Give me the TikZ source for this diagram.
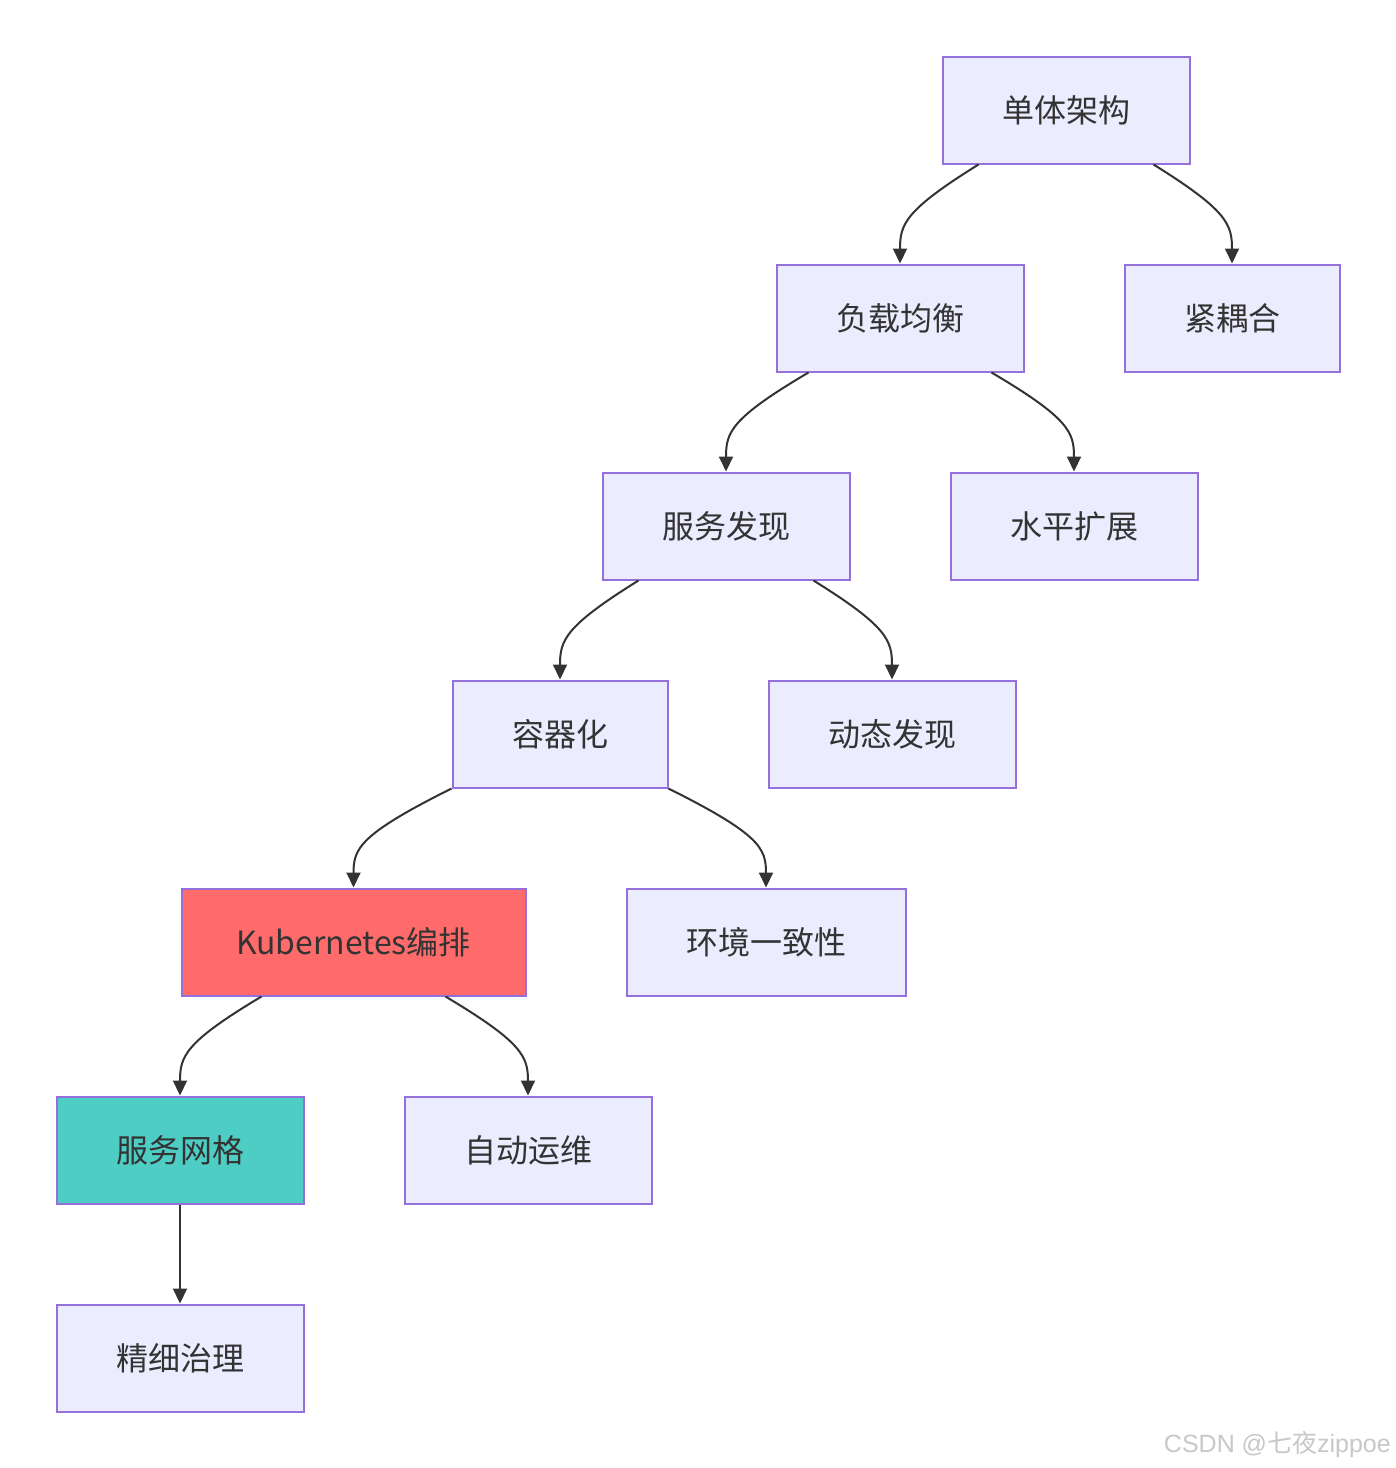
\documentclass[tikz,border=0pt]{standalone}
\usepackage{fontspec}
\setmainfont{Noto Sans CJK SC}
\newfontfamily\wmfont{Liberation Sans}
\newfontfamily\wmcjk{Noto Sans CJK SC}
\usetikzlibrary{arrows.meta,calc}
\definecolor{nodefill}{HTML}{ECECFF}
\definecolor{nodeline}{HTML}{9370DB}
\definecolor{txt}{HTML}{333333}
\definecolor{redfill}{HTML}{FF6B6B}
\definecolor{tealfill}{HTML}{4ECDC4}
\definecolor{wm}{HTML}{C8C8C8}
\tikzset{
  box/.style={draw=nodeline, fill=nodefill, line width=2pt, inner sep=0pt,
    minimum height=107pt, text=txt, font=\fontsize{32pt}{36pt}\selectfont},
  edge/.style={draw=txt, line width=2pt, -{Triangle[length=15pt,width=14pt]}},
}
\begin{document}
\begin{tikzpicture}[x=1pt,y=-1pt]
\useasboundingbox (0,0) rectangle (1396,1468);
\fill[white] (0,0) rectangle (1396,1468);
\node[box, minimum width=247pt] (A) at (1066,110) {单体架构};
\node[box, minimum width=247pt] (B) at (900,318) {负载均衡};
\node[box, minimum width=215pt] (C) at (1232,318) {紧耦合};
\node[box, minimum width=247pt] (D) at (726,526) {服务发现};
\node[box, minimum width=247pt] (E) at (1074,526) {水平扩展};
\node[box, minimum width=215pt] (F) at (560,734) {容器化};
\node[box, minimum width=247pt] (G) at (892,734) {动态发现};
\node[box, minimum width=344pt, fill=redfill] (H) at (353.5,942) {Kubernetes编排};
\node[box, minimum width=279pt] (I) at (766,942) {环境一致性};
\node[box, minimum width=247pt, fill=tealfill] (J) at (180,1150) {服务网格};
\node[box, minimum width=247pt] (K) at (528,1150) {自动运维};
\node[box, minimum width=247pt] (L) at (180,1358) {精细治理};
% edges
\coordinate (a1) at ($(A.south west)+(37,0)$);
\coordinate (a2) at ($(A.south east)+(-37,0)$);
\coordinate (b1) at ($(B.south west)+(33,0)$);
\coordinate (b2) at ($(B.south east)+(-33,0)$);
\coordinate (d1) at ($(D.south west)+(37,0)$);
\coordinate (d2) at ($(D.south east)+(-37,0)$);
\coordinate (h1) at ($(H.south west)+(81,0)$);
\coordinate (h2) at ($(H.south east)+(-81,0)$);
\draw[edge] (a1) .. controls ($(a1)+(-74,46)$) and ($(B.north)+(0,-39)$) .. (B.north);
\draw[edge] (a2) .. controls ($(a2)+(74,46)$) and ($(C.north)+(0,-39)$) .. (C.north);
\draw[edge] (b1) .. controls ($(b1)+(-78,46)$) and ($(D.north)+(0,-39)$) .. (D.north);
\draw[edge] (b2) .. controls ($(b2)+(78,46)$) and ($(E.north)+(0,-39)$) .. (E.north);
\draw[edge] (d1) .. controls ($(d1)+(-74,46)$) and ($(F.north)+(0,-39)$) .. (F.north);
\draw[edge] (d2) .. controls ($(d2)+(74,46)$) and ($(G.north)+(0,-39)$) .. (G.north);
\draw[edge] (F.south west) .. controls ($(F.south west)+(-92,46)$) and ($(H.north)+(0,-39)$) .. (H.north);
\draw[edge] (F.south east) .. controls ($(F.south east)+(92,46)$) and ($(I.north)+(0,-39)$) .. (I.north);
\draw[edge] (h1) .. controls ($(h1)+(-77,46)$) and ($(J.north)+(0,-39)$) .. (J.north);
\draw[edge] (h2) .. controls ($(h2)+(77,46)$) and ($(K.north)+(0,-39)$) .. (K.north);
\draw[edge] (J.south) -- (L.north);
% watermark
\node[anchor=east, text=wm, inner sep=0pt, font=\wmfont\fontsize{25pt}{28pt}\selectfont] (W) at (1391,1445) {CSDN @{\wmcjk 七夜}zippoe};
\end{tikzpicture}
\end{document}
